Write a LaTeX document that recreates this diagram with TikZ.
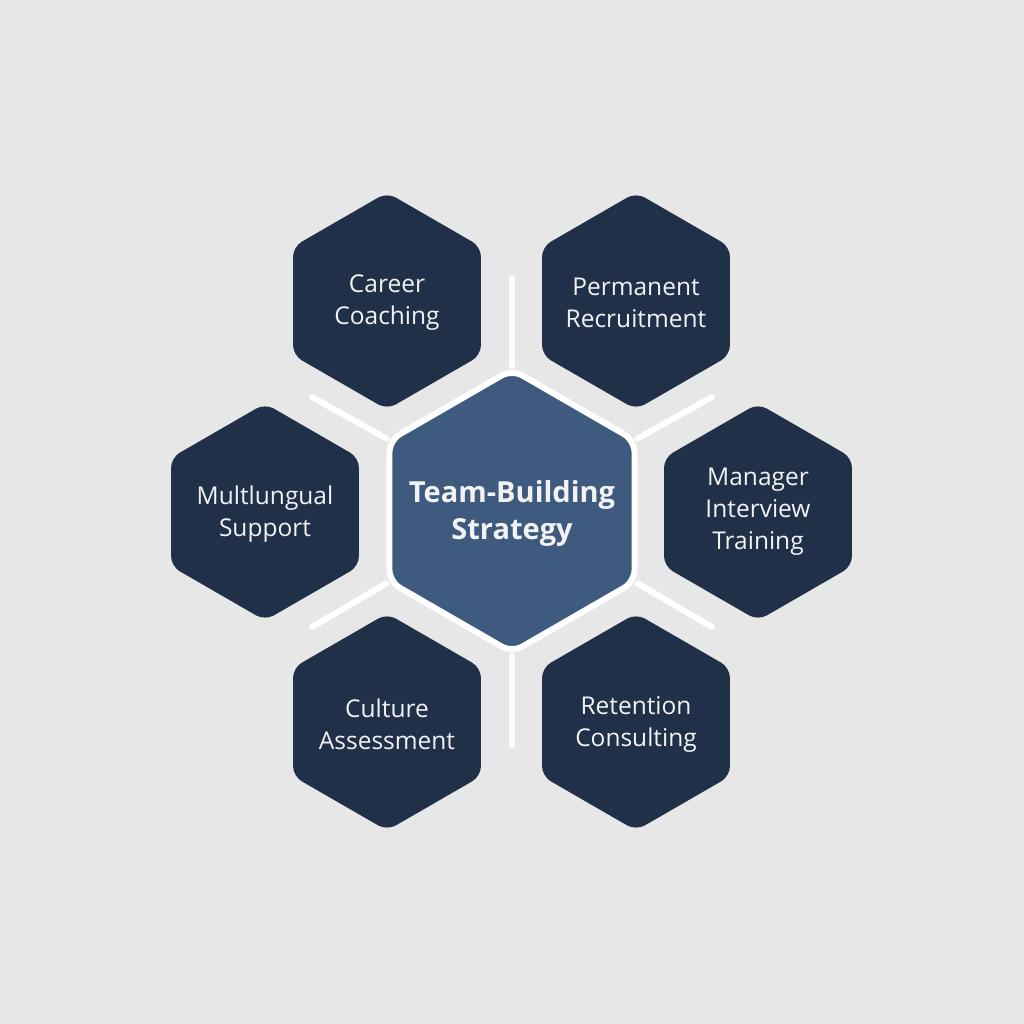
\documentclass[tikz,border=0pt]{standalone}
\usepackage{fontspec}
\setmainfont{Open Sans}
\usetikzlibrary{shapes.geometric}
\definecolor{bgc}{HTML}{E7E7E7}
\definecolor{navy}{HTML}{213049}
\definecolor{midblue}{HTML}{3E5A7F}
\definecolor{txt}{HTML}{F2F2F2}
\tikzset{
  outerhex/.style={regular polygon, regular polygon sides=6, shape border rotate=30,
    minimum size=217pt, inner sep=0pt, fill=navy, rounded corners=10pt},
  centerhex/.style={regular polygon, regular polygon sides=6, shape border rotate=30,
    minimum size=283pt, inner sep=0pt, fill=midblue, draw=white, line width=6pt,
    rounded corners=12pt},
  outertext/.style={text=txt, font=\fontsize{24.5}{32}\selectfont, align=center, inner sep=0pt},
  centertext/.style={text=txt, font=\fontsize{29}{37}\selectfont\bfseries, align=center, inner sep=0pt},
  wline/.style={draw=white, line width=6pt, line cap=round}
}
\begin{document}
\begin{tikzpicture}[x=1pt,y=-1pt]
\useasboundingbox (0,0) rectangle (1024,1024);
\fill[bgc] (0,0) rectangle (1024,1024);
\coordinate (e90) at (512,278);
\coordinate (e270) at (512,745);
\coordinate (e150) at (312,397);
\coordinate (e30) at (712,397);
\coordinate (e210) at (312,627);
\coordinate (e330) at (712,627);
\node[outerhex] (career) at (387,301) {};
\node[outerhex] (perm) at (636,301) {};
\node[outerhex] (multi) at (265,512) {};
\node[outerhex] (mgr) at (758,512) {};
\node[outerhex] (cult) at (387,722) {};
\node[outerhex] (ret) at (636,722) {};
\node[centerhex] (c) at (512,511) {};
\node[outertext] (careert) at (387,303) {Career\\Coaching};
\node[outertext] (permt) at (636,303) {Permanent\\Recruitment};
\node[outertext] (multit) at (265,514) {Multlungual\\Support};
\node[outertext] (mgrt) at (758,512) {Manager\\Interview\\Training};
\node[outertext] (cultt) at (387,724) {Culture\\Assessment};
\node[outertext] (rett) at (636,724) {Retention\\Consulting};
\node[centertext] (ct) at (512,513) {Team-Building\\Strategy};
\draw[wline] (c.90) -- (e90);
\draw[wline] (c.270) -- (e270);
\draw[wline] (c.150) -- (e150);
\draw[wline] (c.30) -- (e30);
\draw[wline] (c.210) -- (e210);
\draw[wline] (c.330) -- (e330);
\end{tikzpicture}
\end{document}
